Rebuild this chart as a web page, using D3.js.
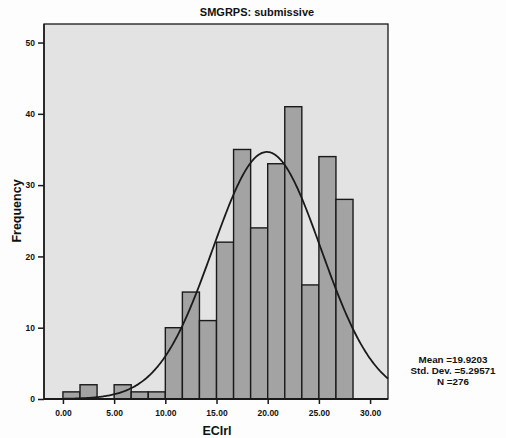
<!DOCTYPE html>
<html>
<head>
<meta charset="utf-8">
<script src="https://cdn.jsdelivr.net/npm/d3@7"></script>
<style>
body { margin: 0; background: #fdfdfd; }
text { font-family: "Liberation Sans", Arial, sans-serif; fill: #111; }
</style>
</head>
<body>
<div id="chart"></div>
<script>
// histogram data (bins of width 5/3 starting at 0)
var binStart = 0;
var binWidth = 5 / 3;
var counts = [1, 2, 0, 2, 1, 1, 10, 15, 11, 22, 35, 24, 33, 41, 16, 34, 28];
var xTicks = [0, 5, 10, 15, 20, 25, 30];
var yTicks = [0, 10, 20, 30, 40, 50];
var statLines = ["Mean =19.9203", "Std. Dev. =5.29571", "N =276"];
var mean = 19.9203, sd = 5.29571, N = 276;

var W = 506, H = 438;
var plotL = 44, plotR = 388, plotT = 24, plotB = 399;

var svg = d3.select("#chart").append("svg")
	.attr("width", W)
	.attr("height", H);

var x = d3.scaleLinear().domain([-1.85, 31.75]).range([plotL, plotR]);
var y = d3.scaleLinear().domain([0, 52.6]).range([plotB, plotT]);

// plot background
svg.append("rect")
	.attr("x", plotL).attr("y", plotT)
	.attr("width", plotR - plotL).attr("height", plotB - plotT)
	.attr("fill", "#e3e3e3");

// bars
var bins = counts.map(function(c, i) { return { x0: binStart + i * binWidth, x1: binStart + (i + 1) * binWidth, c: c }; })
	.filter(function(b) { return b.c > 0; });

svg.selectAll("rect.bar")
	.data(bins)
	.enter().append("rect")
	.attr("class", "bar")
	.attr("x", function(d) { return x(d.x0); })
	.attr("y", function(d) { return y(d.c); })
	.attr("width", function(d) { return x(d.x1) - x(d.x0); })
	.attr("height", function(d) { return y(0) - y(d.c); })
	.attr("fill", "#a3a3a3")
	.attr("stroke", "#1a1a1a")
	.attr("stroke-width", 1.4);

// normal curve from the stats
var pts = d3.range(x.domain()[0], x.domain()[1] + 0.01, 0.1).map(function(v) {
	var z = (v - mean) / sd;
	return [v, N * binWidth / (sd * Math.sqrt(2 * Math.PI)) * Math.exp(-0.5 * z * z)];
});
var line = d3.line()
	.x(function(d) { return x(d[0]); })
	.y(function(d) { return y(d[1]); });

svg.append("path")
	.datum(pts)
	.attr("d", line)
	.attr("fill", "none")
	.attr("stroke", "#1a1a1a")
	.attr("stroke-width", 1.8);

// frame
svg.append("rect")
	.attr("x", plotL).attr("y", plotT)
	.attr("width", plotR - plotL).attr("height", plotB - plotT)
	.attr("fill", "none")
	.attr("stroke", "#1a1a1a")
	.attr("stroke-width", 1.3);

// axes
var yAxis = svg.append("g")
	.attr("transform", "translate(" + plotL + ",0)")
	.call(d3.axisLeft(y).tickValues(yTicks).tickSize(6).tickPadding(3).tickFormat(d3.format("d")));
var xAxis = svg.append("g")
	.attr("transform", "translate(0," + plotB + ")")
	.call(d3.axisBottom(x).tickValues(xTicks).tickSize(5).tickPadding(6).tickFormat(d3.format(".2f")));

[xAxis, yAxis].forEach(function(a) {
	a.select(".domain").attr("stroke", "#1a1a1a").attr("stroke-width", 1.5);
	a.selectAll(".tick line").attr("stroke", "#1a1a1a").attr("stroke-width", 1.5);
	a.selectAll(".tick text")
		.attr("fill", "#111")
		.style("font-family", "\"Liberation Sans\", Arial, sans-serif")
		.style("font-size", "8.5px")
		.style("font-weight", "bold");
});
yAxis.select(".domain").attr("d", "M0," + plotT + "V" + plotB);
xAxis.select(".domain").attr("d", "M" + plotL + ",0H" + plotR).attr("stroke-width", 2.2);

// title and axis labels
svg.append("text")
	.attr("x", 257).attr("y", 16)
	.attr("text-anchor", "middle")
	.style("font-size", "11px").style("font-weight", "bold")
	.text("SMGRPS: submissive");

svg.append("text")
	.attr("transform", "translate(21,211) rotate(-90)")
	.attr("text-anchor", "middle")
	.style("font-size", "12.5px").style("font-weight", "bold")
	.text("Frequency");

svg.append("text")
	.attr("x", 217).attr("y", 435)
	.attr("text-anchor", "middle")
	.style("font-size", "12.5px").style("font-weight", "bold")
	.text("ECIrl");

// stats box
svg.selectAll("text.stat")
	.data(statLines)
	.enter().append("text")
	.attr("class", "stat")
	.attr("x", 453)
	.attr("y", function(d, i) { return 363 + i * 11; })
	.attr("text-anchor", "middle")
	.style("font-size", "9.8px")
	.style("font-weight", "bold")
	.text(function(d) { return d; });
</script>
</body>
</html>
